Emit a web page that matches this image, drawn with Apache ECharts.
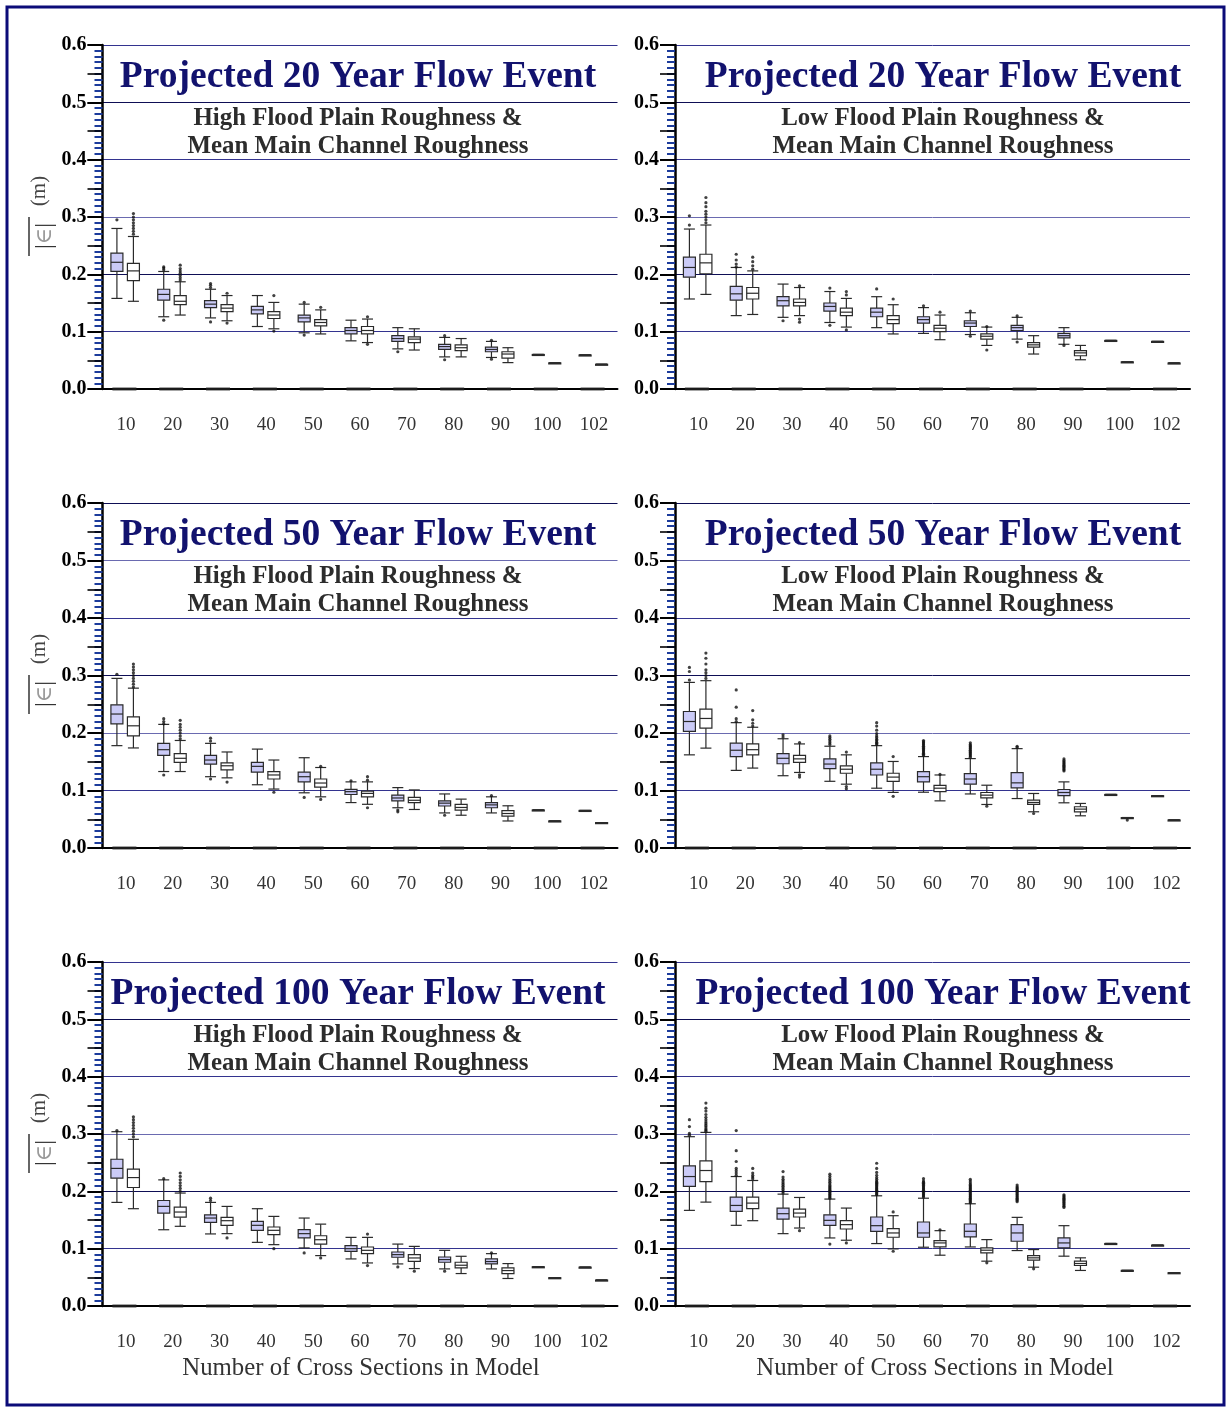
<!DOCTYPE html>
<html>
<head>
<meta charset="utf-8">
<title>Projected Flow Event Error</title>
<script src="https://cdn.jsdelivr.net/npm/echarts@6/dist/echarts.min.js"></script>
<style>
  html, body { margin: 0; padding: 0; background: #ffffff; }
  #chart { width: 1227px; height: 1408px; }
</style>
</head>
<body>
<div id="chart"></div>
<script>
// ---------- data ----------
const categories = ['10', '20', '30', '40', '50', '60', '70', '80', '90', '100', '102'];
const yTicks = [0, 0.1, 0.2, 0.3, 0.4, 0.5, 0.6];
const zeroLevel = [0, 0, 0, 0, 0, 0, 0, 0, 0, 0, 0];

// each entry: [lower whisker, Q1, median, Q3, upper whisker]
// 20 year, high flood plain roughness
const hi20Blue = [
  [0.158, 0.205, 0.221, 0.237, 0.280], [0.126, 0.155, 0.165, 0.174, 0.205],
  [0.124, 0.142, 0.148, 0.154, 0.174], [0.109, 0.131, 0.138, 0.144, 0.163],
  [0.098, 0.117, 0.124, 0.129, 0.148], [0.084, 0.096, 0.102, 0.107, 0.120],
  [0.070, 0.083, 0.088, 0.093, 0.107], [0.056, 0.069, 0.074, 0.078, 0.090],
  [0.055, 0.065, 0.069, 0.073, 0.083], [0.0595, 0.0598, 0.0600, 0.0602, 0.0605],
  [0.0592, 0.0592, 0.0593, 0.0593, 0.0594]
];
const hi20White = [
  [0.153, 0.189, 0.206, 0.219, 0.266], [0.129, 0.147, 0.153, 0.163, 0.187],
  [0.119, 0.135, 0.141, 0.147, 0.163], [0.105, 0.123, 0.129, 0.135, 0.151],
  [0.096, 0.110, 0.116, 0.121, 0.138], [0.081, 0.096, 0.102, 0.109, 0.122],
  [0.068, 0.081, 0.087, 0.091, 0.105], [0.056, 0.067, 0.072, 0.077, 0.088],
  [0.046, 0.054, 0.061, 0.065, 0.072], [0.0448, 0.0450, 0.0453, 0.0455, 0.0458],
  [0.0428, 0.0429, 0.0430, 0.0431, 0.0432]
];
const hi20BlueOut = [
  [0.295], [0.208, 0.211, 0.213, 0.120], [0.177, 0.181, 0.184, 0.117], [], [0.151, 0.094],
  [], [0.065], [0.093, 0.051], [0.085, 0.052], [], []
];
const hi20WhiteOut = [
  [0.270, 0.275, 0.280, 0.285, 0.290, 0.295, 0.300, 0.306],
  [0.190, 0.194, 0.198, 0.202, 0.206, 0.210, 0.216],
  [0.167, 0.115], [0.163, 0.101], [0.1425], [0.126, 0.078], [], [], [], [], []
];

// 20 year, low flood plain roughness
const lo20Blue = [
  [0.157, 0.195, 0.212, 0.230, 0.279], [0.128, 0.155, 0.166, 0.179, 0.212],
  [0.125, 0.145, 0.154, 0.161, 0.183], [0.116, 0.136, 0.144, 0.150, 0.170],
  [0.107, 0.126, 0.134, 0.141, 0.161], [0.097, 0.115, 0.121, 0.126, 0.142],
  [0.095, 0.109, 0.115, 0.119, 0.133], [0.087, 0.102, 0.107, 0.111, 0.125],
  [0.078, 0.089, 0.093, 0.097, 0.107], [0.0843, 0.0845, 0.0846, 0.0847, 0.0849],
  [0.0827, 0.0828, 0.0829, 0.0830, 0.0831]
];
const lo20White = [
  [0.165, 0.201, 0.220, 0.235, 0.286], [0.130, 0.157, 0.167, 0.177, 0.206],
  [0.128, 0.145, 0.151, 0.157, 0.177], [0.108, 0.128, 0.134, 0.141, 0.158],
  [0.096, 0.114, 0.121, 0.128, 0.147], [0.086, 0.100, 0.106, 0.111, 0.129],
  [0.076, 0.087, 0.092, 0.096, 0.108], [0.061, 0.073, 0.077, 0.081, 0.093],
  [0.051, 0.058, 0.063, 0.067, 0.076], [0.0465, 0.0467, 0.0470, 0.0473, 0.0475],
  [0.0450, 0.0451, 0.0452, 0.0453, 0.0454]
];
const lo20BlueOut = [
  [0.286, 0.302], [0.213, 0.218, 0.225, 0.235], [0.119], [0.176, 0.111], [0.1745],
  [0.145], [0.136, 0.092], [0.1275, 0.082], [0.076], [], []
];
const lo20WhiteOut = [
  [0.290, 0.295, 0.300, 0.305, 0.310, 0.318, 0.325, 0.334],
  [0.209, 0.215, 0.222, 0.230], [0.180, 0.122, 0.1165], [0.164, 0.170, 0.103], [0.157],
  [0.134], [0.109, 0.068], [], [], [], []
];

// 50 year, high flood plain roughness
const hi50Blue = [
  [0.178, 0.216, 0.233, 0.249, 0.295], [0.133, 0.161, 0.171, 0.182, 0.215],
  [0.124, 0.146, 0.153, 0.161, 0.182], [0.110, 0.132, 0.142, 0.149, 0.172],
  [0.096, 0.115, 0.124, 0.132, 0.157], [0.079, 0.093, 0.098, 0.102, 0.115],
  [0.070, 0.082, 0.087, 0.092, 0.105], [0.061, 0.073, 0.078, 0.082, 0.094],
  [0.061, 0.070, 0.075, 0.079, 0.089], [0.0655, 0.0657, 0.0659, 0.0661, 0.0663],
  [0.0650, 0.0651, 0.0652, 0.0653, 0.0654]
];
const hi50White = [
  [0.174, 0.195, 0.2125, 0.228, 0.278], [0.133, 0.149, 0.156, 0.164, 0.187],
  [0.122, 0.136, 0.143, 0.148, 0.167], [0.1025, 0.120, 0.127, 0.133, 0.153],
  [0.089, 0.106, 0.113, 0.120, 0.140], [0.076, 0.089, 0.095, 0.099, 0.115],
  [0.067, 0.079, 0.083, 0.088, 0.101], [0.057, 0.066, 0.0705, 0.0757, 0.085],
  [0.047, 0.0555, 0.060, 0.065, 0.0734], [0.0465, 0.0466, 0.0468, 0.0470, 0.0471],
  [0.0437, 0.0438, 0.0440, 0.0441, 0.0442]
];
const hi50BlueOut = [
  [0.302], [0.216, 0.220, 0.225, 0.127], [0.186, 0.191, 0.120], [], [0.088],
  [0.117], [0.066, 0.063], [0.057], [0.091], [], []
];
const hi50WhiteOut = [
  [0.280, 0.285, 0.290, 0.295, 0.300, 0.305, 0.310, 0.315, 0.320],
  [0.190, 0.195, 0.200, 0.205, 0.210, 0.215, 0.222], [0.1146], [0.097], [0.142, 0.0844],
  [0.118, 0.124, 0.070], [], [], [], [], []
];

// 50 year, low flood plain roughness
const lo50Blue = [
  [0.162, 0.2027, 0.220, 0.2374, 0.288], [0.135, 0.159, 0.170, 0.1824, 0.218],
  [0.1257, 0.1465, 0.156, 0.164, 0.190], [0.116, 0.138, 0.146, 0.155, 0.177],
  [0.104, 0.127, 0.137, 0.148, 0.178], [0.097, 0.115, 0.124, 0.133, 0.159],
  [0.094, 0.111, 0.120, 0.1295, 0.1555], [0.086, 0.1046, 0.1133, 0.1312, 0.1728],
  [0.0786, 0.091, 0.0965, 0.1017, 0.115], [0.0927, 0.0929, 0.0930, 0.0931, 0.0933],
  [0.0906, 0.0907, 0.0908, 0.0909, 0.0910]
];
const lo50White = [
  [0.1737, 0.2085, 0.2253, 0.2415, 0.291], [0.139, 0.162, 0.171, 0.181, 0.210],
  [0.1314, 0.1488, 0.155, 0.161, 0.181], [0.111, 0.130, 0.137, 0.143, 0.162],
  [0.0967, 0.1158, 0.1233, 0.130, 0.1505], [0.082, 0.098, 0.104, 0.109, 0.127],
  [0.0757, 0.0873, 0.0919, 0.0965, 0.1092], [0.063, 0.0757, 0.0792, 0.0832, 0.0948],
  [0.056, 0.063, 0.0676, 0.0717, 0.0775], [0.0522, 0.0524, 0.0526, 0.0528, 0.0530],
  [0.0484, 0.0485, 0.0486, 0.0487, 0.0488]
];
const lo50BlueOut = [
  [0.292, 0.307, 0.314],
  [0.220, 0.225, 0.245, 0.275],
  [0.193, 0.197],
  [0.180, 0.183, 0.186, 0.189, 0.192, 0.195],
  [0.180, 0.182, 0.184, 0.187, 0.189, 0.192, 0.195, 0.199, 0.205, 0.212, 0.218],
  [0.161, 0.163, 0.165, 0.167, 0.169, 0.171, 0.173, 0.175, 0.177, 0.179, 0.181, 0.183, 0.185, 0.187],
  [0.158, 0.160, 0.162, 0.164, 0.166, 0.168, 0.170, 0.172, 0.174, 0.176, 0.178, 0.180, 0.183],
  [0.175, 0.177],
  [0.134, 0.136, 0.138, 0.140, 0.142, 0.144, 0.146, 0.148, 0.150, 0.152, 0.155],
  [], []
];
const lo50WhiteOut = [
  [0.295, 0.300, 0.305, 0.310, 0.320, 0.330, 0.339],
  [0.212, 0.217, 0.223, 0.239], [0.1835, 0.1274, 0.1233], [0.1668, 0.107, 0.103],
  [0.159, 0.0898], [0.128], [0.0728], [0.060], [], [0.0486], []
];

// 100 year, high flood plain roughness
const hi100Blue = [
  [0.1807, 0.223, 0.240, 0.256, 0.304], [0.133, 0.162, 0.1737, 0.184, 0.220],
  [0.1257, 0.146, 0.1534, 0.159, 0.1807], [0.111, 0.132, 0.1407, 0.1477, 0.1697],
  [0.1013, 0.1187, 0.1262, 0.1332, 0.1534], [0.0821, 0.0954, 0.100, 0.1052, 0.1197],
  [0.0734, 0.085, 0.0896, 0.0942, 0.108], [0.0647, 0.0763, 0.0809, 0.0855, 0.0971],
  [0.0647, 0.0734, 0.0775, 0.0821, 0.0913], [0.0678, 0.0680, 0.0682, 0.0684, 0.0686],
  [0.0674, 0.0675, 0.0676, 0.0677, 0.0678]
];
const hi100White = [
  [0.1697, 0.2067, 0.224, 0.2386, 0.2907], [0.139, 0.155, 0.1639, 0.1726, 0.197],
  [0.1262, 0.1407, 0.1488, 0.1546, 0.1737], [0.107, 0.1245, 0.132, 0.1378, 0.1563],
  [0.0879, 0.108, 0.1156, 0.1225, 0.1428], [0.0751, 0.0913, 0.0971, 0.1029, 0.1197],
  [0.0653, 0.078, 0.0838, 0.0896, 0.104], [0.0566, 0.0665, 0.0711, 0.0763, 0.0867],
  [0.048, 0.0566, 0.0618, 0.0665, 0.074], [0.0487, 0.0489, 0.0491, 0.0493, 0.0495],
  [0.0448, 0.0449, 0.0451, 0.0452, 0.0453]
];
const hi100BlueOut = [
  [0.306], [0.222], [0.184, 0.188], [], [0.0926], [], [0.0682], [0.0607], [0.0925], [], []
];
const hi100WhiteOut = [
  [0.295, 0.300, 0.305, 0.310, 0.315, 0.320, 0.325, 0.330],
  [0.200, 0.205, 0.210, 0.215, 0.220, 0.226, 0.232], [0.1187], [0.100], [0.0838],
  [0.1254, 0.0705], [0.0607], [], [], [], []
];

// 100 year, low flood plain roughness
const lo100Blue = [
  [0.1668, 0.2085, 0.2258, 0.2444, 0.2953], [0.1407, 0.165, 0.1754, 0.190, 0.2258],
  [0.1262, 0.1517, 0.161, 0.1708, 0.1951], [0.1187, 0.1407, 0.1494, 0.159, 0.1865],
  [0.1089, 0.1303, 0.1401, 0.1552, 0.1922], [0.1025, 0.1199, 0.1274, 0.1465, 0.188],
  [0.103, 0.1204, 0.1303, 0.143, 0.1783], [0.0967, 0.1129, 0.1274, 0.1419, 0.1546],
  [0.0869, 0.1013, 0.110, 0.1187, 0.1401], [0.1086, 0.1088, 0.1089, 0.1090, 0.1092],
  [0.1058, 0.1059, 0.106, 0.1061, 0.1062]
];
const lo100White = [
  [0.1812, 0.2171, 0.2363, 0.253, 0.3028], [0.1488, 0.1697, 0.1795, 0.190, 0.2189],
  [0.136, 0.1552, 0.1621, 0.169, 0.1893], [0.1147, 0.1343, 0.1419, 0.1488, 0.1708],
  [0.0996, 0.1199, 0.1274, 0.1349, 0.1575], [0.0886, 0.103, 0.110, 0.114, 0.1314],
  [0.0782, 0.0926, 0.0973, 0.1013, 0.1158], [0.0677, 0.080, 0.084, 0.088, 0.0984],
  [0.062, 0.0706, 0.0741, 0.0782, 0.084], [0.0617, 0.0618, 0.062, 0.0621, 0.0623],
  [0.0577, 0.0578, 0.0579, 0.058, 0.0581]
];
const lo100BlueOut = [
  [0.298, 0.301, 0.313, 0.325],
  [0.228, 0.232, 0.236, 0.240, 0.252, 0.271, 0.306],
  [0.197, 0.200, 0.203, 0.206, 0.209, 0.212, 0.215, 0.218, 0.221, 0.225, 0.2345],
  [0.188, 0.190, 0.192, 0.194, 0.196, 0.198, 0.200, 0.202, 0.204, 0.206, 0.208, 0.210, 0.213, 0.216, 0.219, 0.222, 0.226, 0.230, 0.108],
  [0.194, 0.196, 0.198, 0.200, 0.202, 0.204, 0.206, 0.208, 0.210, 0.212, 0.214, 0.216, 0.218, 0.221, 0.224, 0.228, 0.233, 0.240, 0.249],
  [0.190, 0.192, 0.194, 0.196, 0.198, 0.200, 0.202, 0.204, 0.206, 0.208, 0.210, 0.212, 0.214, 0.216, 0.218, 0.222],
  [0.180, 0.182, 0.184, 0.186, 0.188, 0.190, 0.192, 0.194, 0.196, 0.198, 0.200, 0.202, 0.204, 0.206, 0.208, 0.210, 0.212, 0.215, 0.218, 0.221],
  [0.182, 0.184, 0.186, 0.188, 0.190, 0.192, 0.194, 0.196, 0.198, 0.200, 0.202, 0.204, 0.206, 0.208, 0.211],
  [0.172, 0.174, 0.176, 0.178, 0.180, 0.182, 0.184, 0.186, 0.188, 0.190, 0.192, 0.194],
  [], []
];
const lo100WhiteOut = [
  [0.305, 0.307, 0.309, 0.312, 0.315, 0.318, 0.321, 0.325, 0.329, 0.334, 0.340, 0.345, 0.354],
  [0.222, 0.225, 0.228, 0.232, 0.240], [0.1314], [0.110], [0.164, 0.0955],
  [0.133], [0.0753], [0.0649], [], [], []
];

const panelTitles = ['Projected 20 Year Flow Event', 'Projected 20 Year Flow Event',
  'Projected 50 Year Flow Event', 'Projected 50 Year Flow Event',
  'Projected 100 Year Flow Event', 'Projected 100 Year Flow Event'];
const panelSubtitles = [
  ['High Flood Plain Roughness &', 'Mean Main Channel Roughness'],
  ['Low Flood Plain Roughness &', 'Mean Main Channel Roughness'],
  ['High Flood Plain Roughness &', 'Mean Main Channel Roughness'],
  ['Low Flood Plain Roughness &', 'Mean Main Channel Roughness'],
  ['High Flood Plain Roughness &', 'Mean Main Channel Roughness'],
  ['Low Flood Plain Roughness &', 'Mean Main Channel Roughness']
];
const xAxisTitle = 'Number of Cross Sections in Model';

// ---------- layout & style ----------
const SERIF = '"Liberation Serif", "DejaVu Serif", serif';
const BLUE_FILL = '#cbcbf7';
const WHITE_FILL = '#ffffff';
const G_DARK = '#0e0e55';
const G_MID = '#33338f';
const G_LIGHT = '#6a6ab0';
const OFFSET_BLUE = -9;
const OFFSET_WHITE = 7.5;

const colLeft = [102.5, 675];
const plotWidth = 515;
const rowTop = [45, 503, 962];
const plotHeight = [344, 345, 344];
const titleX = [358, 943];

// grid line colours for 0.0 … 0.6, per row
const splitColors = [
  [G_MID, G_MID, G_DARK, G_LIGHT, G_MID, G_DARK, G_MID],
  [G_MID, G_MID, G_LIGHT, G_DARK, G_MID, G_LIGHT, G_DARK],
  [G_MID, G_MID, G_DARK, G_LIGHT, G_MID, G_DARK, G_MID]
];

const panels = [
  { blue: hi20Blue, white: hi20White, blueOut: hi20BlueOut, whiteOut: hi20WhiteOut },
  { blue: lo20Blue, white: lo20White, blueOut: lo20BlueOut, whiteOut: lo20WhiteOut },
  { blue: hi50Blue, white: hi50White, blueOut: hi50BlueOut, whiteOut: hi50WhiteOut },
  { blue: lo50Blue, white: lo50White, blueOut: lo50BlueOut, whiteOut: lo50WhiteOut },
  { blue: hi100Blue, white: hi100White, blueOut: hi100BlueOut, whiteOut: hi100WhiteOut },
  { blue: lo100Blue, white: lo100White, blueOut: lo100BlueOut, whiteOut: lo100WhiteOut }
];

function boxRenderer(offset, fill) {
  return function (params, api) {
    const c = api.value(0);
    const lo = api.coord([c, api.value(1)]);
    const q1 = api.coord([c, api.value(2)]);
    const md = api.coord([c, api.value(3)]);
    const q3 = api.coord([c, api.value(4)]);
    const hi = api.coord([c, api.value(5)]);
    const x = lo[0] + offset;
    const hw = 6, cw = 5.5;
    const st = { stroke: '#2a2a2a', lineWidth: 1.2, fill: null };
    return {
      type: 'group',
      children: [
        { type: 'line', shape: { x1: x, y1: hi[1], x2: x, y2: q3[1] }, style: st },
        { type: 'line', shape: { x1: x, y1: q1[1], x2: x, y2: lo[1] }, style: st },
        { type: 'line', shape: { x1: x - cw, y1: hi[1], x2: x + cw, y2: hi[1] }, style: st },
        { type: 'line', shape: { x1: x - cw, y1: lo[1], x2: x + cw, y2: lo[1] }, style: st },
        { type: 'rect', shape: { x: x - hw, y: q3[1], width: 2 * hw, height: Math.max(q1[1] - q3[1], 1) },
          style: { fill: fill, stroke: '#2a2a2a', lineWidth: 1.2 } },
        { type: 'line', shape: { x1: x - hw, y1: md[1], x2: x + hw, y2: md[1] }, style: st }
      ]
    };
  };
}

const grids = [], xAxes = [], yAxes = [], series = [], graphics = [];

panels.forEach((p, k) => {
  const row = Math.floor(k / 2), col = k % 2;
  const left = colLeft[col];
  grids.push({ left: left, top: rowTop[row], width: plotWidth, height: plotHeight[row] });

  xAxes.push({
    type: 'category', gridIndex: k, data: categories, boundaryGap: true, position: 'bottom',
    axisLine: { lineStyle: { color: '#000', width: 2 } },
    axisTick: { alignWithLabel: true, length: 15, lineStyle: { color: '#555', width: 1.5 } },
    axisLabel: { fontFamily: SERIF, fontSize: 19, color: '#333', margin: 27 },
    splitLine: { show: false }
  });

  yAxes.push({
    type: 'value', gridIndex: k, position: 'left', min: 0, max: 0.6, interval: 0.1,
    axisLine: { show: true, lineStyle: { color: '#000', width: 2.5 } },
    axisTick: { show: true, length: 15, lineStyle: { color: '#000', width: 2 } },
    minorTick: { show: true, splitNumber: 10, length: 8, lineStyle: { color: '#1c3c9c', width: 2 } },
    axisLabel: { fontFamily: SERIF, fontWeight: 'bold', fontSize: 20, color: '#000', margin: 16,
      formatter: v => v.toFixed(1) },
    splitLine: { show: true, lineStyle: { color: splitColors[row], width: 1 } }
  });
  // half-step ticks at every 0.05, on the same left edge
  yAxes.push({
    type: 'value', gridIndex: k, position: 'left', offset: 0, min: 0, max: 0.6, interval: 0.05,
    axisLine: { show: false },
    axisTick: { show: true, length: 15, lineStyle: { color: '#000', width: 1.6 } },
    axisLabel: { show: false },
    splitLine: { show: false }
  });

  const yi = k * 2;
  series.push({
    type: 'scatter', xAxisIndex: k, yAxisIndex: yi, symbol: 'rect', symbolSize: [24, 3],
    symbolOffset: [-1.5, 0], itemStyle: { color: '#222' }, silent: true, z: 3,
    data: zeroLevel.map((v, i) => [i, v])
  });
  series.push({
    type: 'custom', xAxisIndex: k, yAxisIndex: yi,
    renderItem: boxRenderer(OFFSET_BLUE, BLUE_FILL),
    encode: { x: 0, y: [1, 2, 3, 4, 5] },
    data: p.blue.map((b, i) => [i].concat(b)), z: 4
  });
  series.push({
    type: 'custom', xAxisIndex: k, yAxisIndex: yi,
    renderItem: boxRenderer(OFFSET_WHITE, WHITE_FILL),
    encode: { x: 0, y: [1, 2, 3, 4, 5] },
    data: p.white.map((b, i) => [i].concat(b)), z: 4
  });
  const toPts = arr => arr.reduce((acc, vals, i) => acc.concat(vals.map(v => [i, v])), []);
  series.push({
    type: 'scatter', xAxisIndex: k, yAxisIndex: yi, symbol: 'circle', symbolSize: 3.2,
    symbolOffset: [OFFSET_BLUE, 0], itemStyle: { color: '#111' }, z: 5,
    data: toPts(p.blueOut)
  });
  series.push({
    type: 'scatter', xAxisIndex: k, yAxisIndex: yi, symbol: 'circle', symbolSize: 3.2,
    symbolOffset: [OFFSET_WHITE, 0], itemStyle: { color: '#111' }, z: 5,
    data: toPts(p.whiteOut)
  });

  // panel headings
  const dy = rowTop[row] - rowTop[0];
  graphics.push({
    type: 'text', x: titleX[col], y: 77.5 + dy, z: 10,
    style: { text: panelTitles[k], fill: '#12126e', font: 'bold 37.5px ' + SERIF,
      align: 'center', verticalAlign: 'middle' }
  });
  graphics.push({
    type: 'text', x: titleX[col], y: 118.5 + dy, z: 10,
    style: { text: panelSubtitles[k][0], fill: '#2c2c2c', font: 'bold 24.9px ' + SERIF,
      align: 'center', verticalAlign: 'middle' }
  });
  graphics.push({
    type: 'text', x: titleX[col], y: 146.5 + dy, z: 10,
    style: { text: panelSubtitles[k][1], fill: '#2c2c2c', font: 'bold 24.9px ' + SERIF,
      align: 'center', verticalAlign: 'middle' }
  });

  // y-axis quantity label on the left column
  if (col === 0) {
    graphics.push({
      type: 'text', x: 39, y: 191 + dy, rotation: Math.PI / 2, z: 10,
      style: { text: '(m)', fill: '#444', font: '21px ' + SERIF, align: 'center', verticalAlign: 'middle' }
    });
    graphics.push({
      type: 'text', x: 45, y: 236 + dy, rotation: Math.PI / 2, z: 10,
      style: {
        text: '{b||}{e|∈}{b||}', align: 'center', verticalAlign: 'middle',
        rich: {
          b: { fill: '#333', font: '24px ' + SERIF },
          e: { fill: '#9a9a9a', font: '22px ' + SERIF }
        }
      }
    });
    graphics.push({
      type: 'line', z: 10,
      shape: { x1: 29, y1: 217 + dy, x2: 29, y2: 256 + dy },
      style: { stroke: '#333', lineWidth: 1.5 }
    });
  }
  // x-axis title on the bottom row
  if (row === 2) {
    graphics.push({
      type: 'text', x: [361, 935][col], y: 1368.5, z: 10,
      style: { text: xAxisTitle, fill: '#333', font: '24.8px ' + SERIF, align: 'center', verticalAlign: 'middle' }
    });
  }
});

// outer frame
graphics.push({
  type: 'rect', z: 20, silent: true,
  shape: { x: 7, y: 7, width: 1217, height: 1398 },
  style: { fill: null, stroke: '#0b0b78', lineWidth: 3 }
});

const chart = echarts.init(document.getElementById('chart'), null, { renderer: 'canvas' });
chart.setOption({
  backgroundColor: '#ffffff',
  animation: false,
  grid: grids,
  xAxis: xAxes,
  yAxis: yAxes,
  series: series,
  graphic: graphics
});
</script>
</body>
</html>
